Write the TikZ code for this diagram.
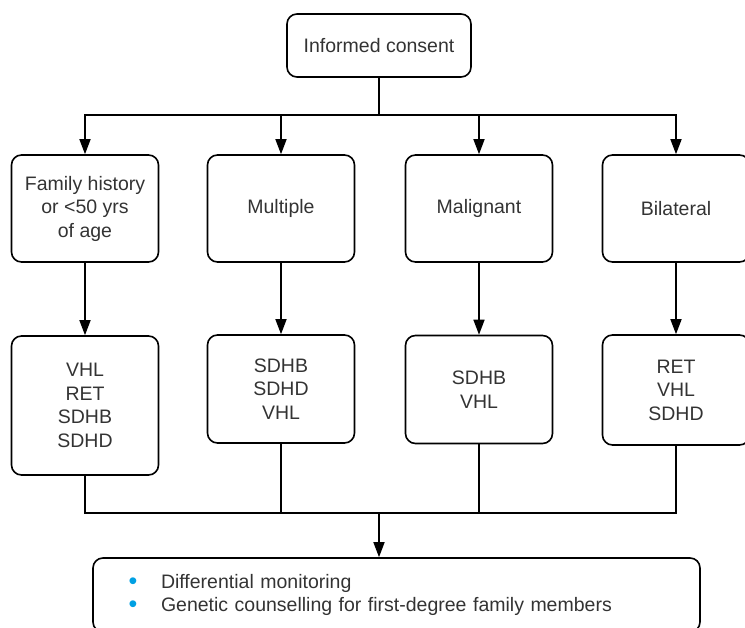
\documentclass[tikz,border=0pt]{standalone}
\usepackage{fontspec}
\setmainfont{Liberation Sans}
\usetikzlibrary{arrows.meta}
\definecolor{bulletblue}{RGB}{0,160,227}
\newcommand{\bluedot}{\makebox[32.5pt][l]{\raisebox{-1pt}{\color{bulletblue}\fontsize{25}{23.5}\selectfont\textbullet}}}
\tikzset{
  box/.style={draw, rounded corners=10pt, line width=1.6pt, align=center,
    text=black!80, font=\fontsize{19.5}{23.5}\selectfont, inner sep=0pt,
    minimum width=147pt},
  link/.style={line width=1.6pt},
  bus/.style={link, line cap=rect},
  arr/.style={link, -{Triangle[length=15pt,width=11pt]}},
}

\begin{document}
\begin{tikzpicture}[x=1pt, y=-1pt]
  \useasboundingbox (0,0) rectangle (745,628);

  % top
  \node[box, minimum width=184pt, minimum height=63pt] (consent) at (379,45.5) {Informed consent};
  \coordinate (topbus) at (379,115);

  % categories
  \node[box, minimum height=107pt] (famhist) at (85,208.5) {Family history\\or <50 yrs\\of age};
  \node[box, minimum height=107pt] (multiple) at (281,208.5) {Multiple};
  \node[box, minimum height=107pt] (malignant) at (479,208.5) {Malignant};
  \node[box, minimum height=107pt] (bilateral) at (676,208.5) {Bilateral};

  % genes to test
  \node[box, minimum height=139pt] (famgenes) at (85,405.5) {VHL\\RET\\SDHB\\SDHD};
  \node[box, minimum height=108pt] (multgenes) at (281,389) {SDHB\\SDHD\\VHL};
  \node[box, minimum height=108pt] (malgenes) at (479,389.5) {SDHB\\VHL};
  \node[box, minimum height=110pt] (bilgenes) at (676,390) {RET\\VHL\\SDHD};
  \coordinate (botbus) at (379,513);

  % follow-up
  \node[box, align=left, inner xsep=35.5pt, text width=536pt, minimum height=74pt] (advice) at (396.5,595)
    {\bluedot Differential monitoring\\
     \bluedot Genetic counselling for first-degree family members};

  \draw[link] (consent) -- (topbus);
  \draw[bus] (famhist.north |- topbus) -- (bilateral.north |- topbus);
  \draw[bus] (famgenes.south |- botbus) -- (bilgenes.south |- botbus);
  \foreach \cat/\genes in {famhist/famgenes, multiple/multgenes, malignant/malgenes, bilateral/bilgenes} {
    \draw[arr] (\cat.north |- topbus) -- (\cat.north);
    \draw[arr] (\cat) -- (\genes);
    \draw[link] (\genes) -- (\genes.south |- botbus);
  }
  \draw[arr] (botbus) -- (advice.north -| botbus);
\end{tikzpicture}
\end{document}
